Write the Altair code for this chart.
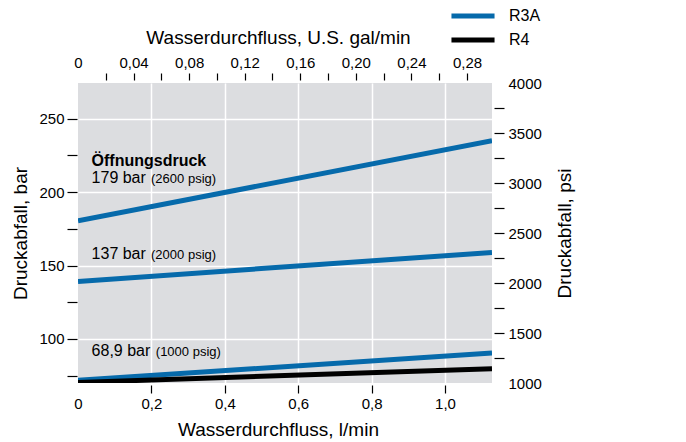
import altair as alt
import pandas as pd

# ---------------- data ----------------
flow_ends_lpm = [0.0, 1.128]                 # x extent of every curve (l/min)
line_ids = ["179 bar", "137 bar", "68,9 bar", "R4"]
models = ["R3A", "R3A", "R3A", "R4"]
drop_start_bar = [180.5, 139.2, 71.8, 70.4]   # bar at 0 l/min
drop_end_bar = [235.0, 158.9, 90.4, 79.7]     # bar at 1.128 l/min

x_lpm_ticks = [0, 0.2, 0.4, 0.6, 0.8, 1.0]
x_gal_ticks = [0, 0.02, 0.04, 0.06, 0.08, 0.10, 0.12, 0.14, 0.16, 0.18,
               0.20, 0.22, 0.24, 0.26, 0.28]
y_bar_ticks = [75, 100, 125, 150, 175, 200, 225, 250]
y_psi_ticks = [1000, 1250, 1500, 1750, 2000, 2250, 2500, 2750, 3000,
               3250, 3500, 3750, 4000]

x_lpm_domain = [0, 1.128]
x_gal_domain = [0, 0.298]
y_bar_domain = [70.0, 274.3]
y_psi_domain = [1000, 4000]

header_text = ["Öffnungsdruck"]
header_x = [0.037]
header_y = [217.5]
label_main = ["179 bar", "137 bar", "68,9 bar"]
label_main_x = [0.037, 0.037, 0.037]
label_sub = ["(2600 psig)", "(2000 psig)", "(1000 psig)"]
label_sub_x = [0.199, 0.199, 0.212]
label_y = [206.2, 154.6, 88.2]

BLUE = "#066aab"
FONT = "Liberation Sans"

# ---------------- tables ----------------
rows = []
for lid, m, a, b in zip(line_ids, models, drop_start_bar, drop_end_bar):
    rows.append({"line": lid, "model": m, "flow": flow_ends_lpm[0], "bar": a})
    rows.append({"line": lid, "model": m, "flow": flow_ends_lpm[1], "bar": b})
lines_df = pd.DataFrame(rows)

head_df = pd.DataFrame({"flow": header_x, "bar": header_y, "t": header_text})
main_df = pd.DataFrame({"flow": label_main_x, "bar": label_y, "t": label_main})
sub_df = pd.DataFrame({"flow": label_sub_x, "bar": label_y, "t": label_sub})
aux_df = pd.DataFrame({"gal": x_gal_domain, "psi": y_psi_domain})

# ---------------- axes ----------------
x_axis = alt.Axis(
    title="Wasserdurchfluss, l/min", values=x_lpm_ticks, orient="bottom",
    labelExpr="datum.value == 0 ? '0' : replace(format(datum.value, '.1f'), '.', ',')",
    tickSize=8, offset=2, labelPadding=3, titlePadding=9, titleX=200,
    grid=True,
    gridOpacity={"condition": {"test": "datum.value == 0", "value": 0}, "value": 1},
    tickOpacity={"condition": {"test": "datum.value == 0", "value": 0}, "value": 1},
)
y_axis = alt.Axis(
    title="Druckabfall, bar", values=y_bar_ticks, orient="left",
    labelExpr="datum.value % 50 == 0 ? datum.label : ''",
    tickSize=10, offset=1, labelPadding=3, titlePadding=8,
    grid=True,
    gridOpacity={"condition": {"test": "datum.value % 50 == 0", "value": 1}, "value": 0},
)
x2_axis = alt.Axis(
    title="Wasserdurchfluss, U.S. gal/min", values=x_gal_ticks, orient="top",
    labelExpr="datum.value == 0 ? '0' : (round(datum.value * 100) % 4 == 0 ? replace(format(datum.value, '.2f'), '.', ',') : '')",
    tickSize=7, offset=3, labelPadding=3, titlePadding=8, titleX=200, grid=False,
    tickOpacity={"condition": {"test": "datum.value == 0", "value": 0}, "value": 1},
)
y2_axis = alt.Axis(
    title="Druckabfall, psi", values=y_psi_ticks, orient="right",
    labelExpr="datum.value % 500 == 0 ? format(datum.value, 'd') : ''",
    tickSize=10, offset=2, labelPadding=4, titlePadding=14, grid=False,
    titleAngle=270, titleBaseline="top",
    tickOpacity={"condition": {"test": "datum.value == 1000 || datum.value == 4000", "value": 0}, "value": 1},
)

X = alt.X("flow:Q", scale=alt.Scale(domain=x_lpm_domain, nice=False, zero=False), axis=x_axis)
Y = alt.Y("bar:Q", scale=alt.Scale(domain=y_bar_domain, nice=False, zero=False), axis=y_axis)
C = alt.Color(
    "model:N",
    scale=alt.Scale(domain=["R3A", "R4"], range=[BLUE, "#000000"]),
    legend=alt.Legend(
        title=None, orient="none", legendX=387, legendY=-75,
        symbolType="M-4,0H4", symbolSize=116, symbolStrokeWidth=5,
        labelFontSize=16, labelFont=FONT, labelColor="black", labelOffset=28,
        rowPadding=4,
    ),
)

line_style = dict(strokeWidth=5, strokeCap="butt", clip=True)
blue_lines = alt.Chart(lines_df).transform_filter(alt.datum.model == "R3A").mark_line(**line_style).encode(
    x=X, y=Y, color=C, detail="line:N")
black_lines = alt.Chart(lines_df).transform_filter(alt.datum.model == "R4").mark_line(**line_style).encode(
    x=X, y=Y, color=C, detail="line:N")

head = alt.Chart(head_df).mark_text(
    align="left", baseline="alphabetic", font=FONT, fontSize=16, fontWeight="bold", color="black"
).encode(x=X, y=Y, text="t:N")
mains = alt.Chart(main_df).mark_text(
    align="left", baseline="alphabetic", font=FONT, fontSize=16, color="black"
).encode(x=X, y=Y, text="t:N")
subs = alt.Chart(sub_df).mark_text(
    align="left", baseline="alphabetic", font=FONT, fontSize=13, color="black"
).encode(x=X, y=Y, text="t:N")

main_layer = alt.layer(blue_lines, black_lines, head, mains, subs)

aux = alt.Chart(aux_df).mark_point(opacity=0).encode(
    x=alt.X("gal:Q", scale=alt.Scale(domain=x_gal_domain, nice=False, zero=False), axis=x2_axis),
    y=alt.Y("psi:Q", scale=alt.Scale(domain=y_psi_domain, nice=False, zero=False), axis=y2_axis),
)

chart = alt.layer(main_layer, aux).resolve_scale(
    x="independent", y="independent"
).properties(
    width=414, height=300,
    autosize=alt.AutoSizeParams(type="none"),
    padding={"left": 70, "top": 75, "right": 186, "bottom": 62},
).configure_view(
    fill="#dcdde0", stroke=None
).configure_axis(
    labelFont=FONT, titleFont=FONT, labelFontSize=15, titleFontSize=19,
    titleFontWeight="normal", labelColor="black", titleColor="black",
    tickColor="black", tickWidth=1.2, domain=False, gridColor="white", gridWidth=1.5,
    labelFlush=False, labelOverlap=False,
)

chart.save("out.html", embed_options={"renderer": "svg", "actions": False})
